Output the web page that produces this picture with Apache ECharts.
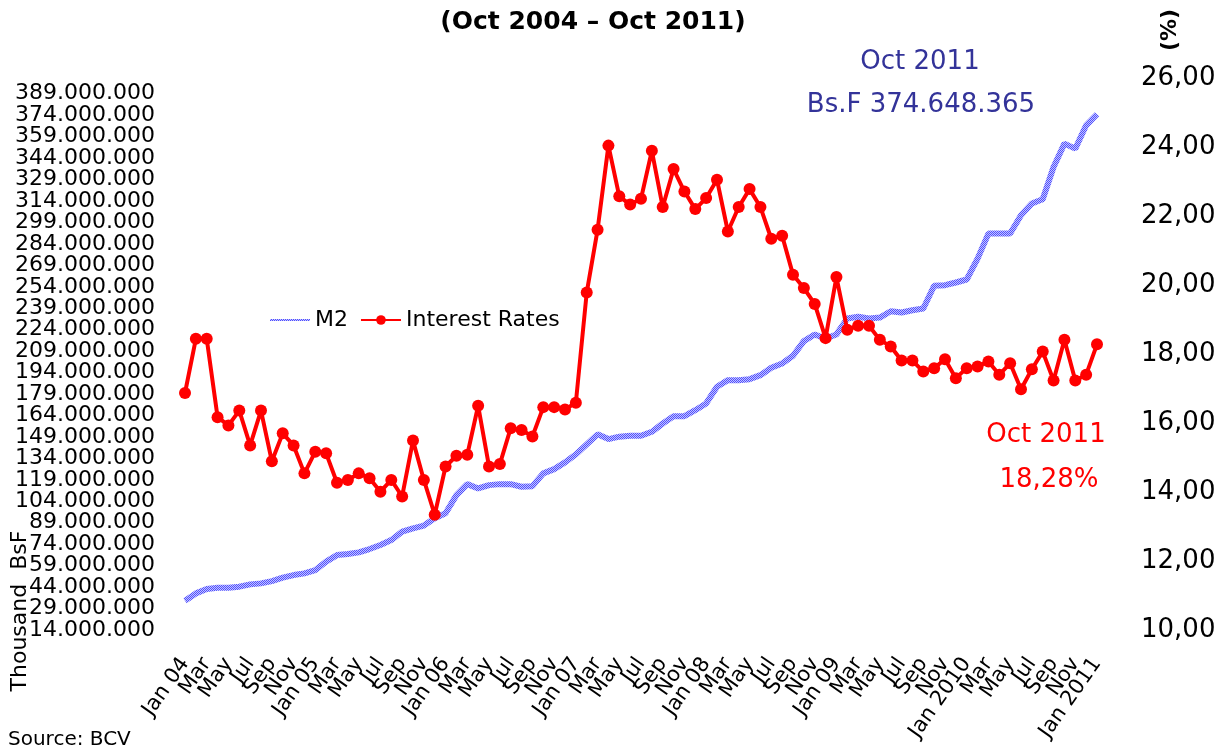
<!DOCTYPE html>
<html>
<head>
<meta charset="utf-8">
<script src="https://cdn.jsdelivr.net/npm/echarts@6/dist/echarts.min.js"></script>
<style>
html, body { margin: 0; padding: 0; background: #fff; }
#chart { width: 1223px; height: 750px; }
</style>
</head>
<body>
<div id="chart"></div>
<script>
// month names and year suffixes used for the x labels (Jan 04 .. Jan 2011)
const monthNames = ['Jan', 'Feb', 'Mar', 'Apr', 'May', 'Jun', 'Jul', 'Aug', 'Sep', 'Oct', 'Nov', 'Dec'];
const yearTags = ['04', '05', '06', '07', '08', '09', '2010', '2011'];

// M2, thousand BsF
const m2Values = [
    34500000, 39600000, 42700000, 43600000, 43600000, 44300000, 45900000, 46600000, 48200000, 50600000, 52400000, 53600000,
    55900000, 61800000, 66400000, 67100000, 68300000, 70600000, 73400000, 76900000, 82800000, 85100000, 87000000, 92100000,
    95600000, 108300000, 116000000, 113000000, 115300000, 116000000, 116000000, 114200000, 114600000, 123500000, 126500000, 131200000,
    136800000, 143800000, 150800000, 147500000, 149200000, 149800000, 149800000, 152600000, 158400000, 163500000, 163500000, 167700000,
    172400000, 184100000, 188700000, 188700000, 189400000, 192200000, 197400000, 200400000, 205800000, 216000000, 220600000, 217800000,
    220600000, 231800000, 233000000, 231800000, 232500000, 236900000, 236000000, 237600000, 238800000, 254700000, 255100000, 257000000,
    259100000, 273700000, 291200000, 291200000, 291200000, 304000000, 312200000, 315200000, 337800000, 354100000, 350600000, 366900000,
    374648365
];

// interest rates, %
const rateValues = [
    16.87, 18.44, 18.44, 16.17, 15.93, 16.36, 15.35, 16.36, 14.89, 15.70, 15.35, 14.54,
    15.17, 15.12, 14.27, 14.35, 14.54, 14.40, 14.01, 14.35, 13.87, 15.49, 14.35, 13.34,
    14.74, 15.05, 15.08, 16.50, 14.74, 14.81, 15.85, 15.80, 15.61, 16.46, 16.46, 16.39,
    16.59, 19.78, 21.60, 24.04, 22.57, 22.33, 22.50, 23.89, 22.26, 23.36, 22.71, 22.20,
    22.52, 23.05, 21.55, 22.26, 22.78, 22.26, 21.34, 21.43, 20.30, 19.91, 19.45, 18.46,
    20.23, 18.70, 18.82, 18.82, 18.41, 18.22, 17.81, 17.81, 17.49, 17.59, 17.85, 17.30,
    17.59, 17.64, 17.78, 17.40, 17.73, 16.98, 17.56, 18.07, 17.23, 18.41, 17.23, 17.40,
    18.28
];

// axis ranges: min, max, step
const leftAxisRange = [14000000, 400000000, 15000000];
const rightAxisRange = [10, 26, 2];

const categories = [];
for (let i = 0; i < m2Values.length; i++) {
    const m = monthNames[i % 12];
    categories.push(m === 'Jan' ? 'Jan ' + yearTags[Math.floor(i / 12)] : m);
}

function dotted(v) {
    return String(Math.round(v)).replace(/\B(?=(\d{3})+(?!\d))/g, '.');
}

// checkered blue texture for the M2 line
const tex = document.createElement('canvas');
tex.width = 2;
tex.height = 2;
const tctx = tex.getContext('2d');
tctx.fillStyle = '#c4c4ff';
tctx.fillRect(0, 0, 2, 2);
tctx.fillStyle = '#5050ff';
tctx.fillRect(0, 0, 1, 1);
tctx.fillRect(1, 1, 1, 1);

const FONT = 'DejaVu Sans';
const chart = echarts.init(document.getElementById('chart'));

const noLines = {
    axisLine: { show: false },
    axisTick: { show: false },
    splitLine: { show: false }
};
const leftLabel = { margin: 30, fontSize: 22, color: '#000', fontFamily: FONT };

const option = {
    backgroundColor: '#fff',
    animation: false,
    textStyle: { fontFamily: FONT },
    grid: { left: 185, right: 126, top: 78, bottom: 120 },
    legend: {
        left: 264,
        top: 304,
        itemWidth: 40,
        itemHeight: 12,
        itemGap: 12,
        textStyle: { fontSize: 22, color: '#000', fontFamily: FONT },
        data: [{ name: 'M2', itemStyle: { opacity: 0 } }, 'Interest Rates']
    },
    xAxis: Object.assign({
        type: 'category',
        data: categories,
        boundaryGap: false,
        axisLabel: {
            interval: 0,
            rotate: 55,
            margin: 30,
            fontSize: 21,
            color: '#000',
            fontFamily: FONT,
            // every second month is labelled
            formatter: function (v, i) { return i % 2 === 0 ? v : ''; }
        }
    }, noLines),
    yAxis: [Object.assign({
        type: 'value',
        min: leftAxisRange[0],
        max: leftAxisRange[1],
        interval: leftAxisRange[2],
        axisLabel: Object.assign({ showMinLabel: false, showMaxLabel: false, formatter: dotted }, leftLabel)
    }, noLines), Object.assign({
        type: 'value',
        min: rightAxisRange[0],
        max: rightAxisRange[1],
        interval: rightAxisRange[2],
        position: 'right',
        axisLabel: {
            margin: 44,
            fontSize: 26,
            color: '#000',
            fontFamily: FONT,
            showMinLabel: true,
            showMaxLabel: true,
            formatter: function (v) { return v.toFixed(2).replace('.', ','); }
        }
    }, noLines), Object.assign({
        // same scale as the left axis, only carries the bottom label
        type: 'value',
        min: leftAxisRange[0],
        max: leftAxisRange[1],
        interval: leftAxisRange[2],
        position: 'left',
        axisLabel: Object.assign({
            showMinLabel: true,
            showMaxLabel: false,
            formatter: function (v) { return v === leftAxisRange[0] ? dotted(v) : ''; }
        }, leftLabel)
    }, noLines)],
    series: [{
        name: 'M2',
        type: 'line',
        yAxisIndex: 0,
        symbol: 'none',
        lineStyle: { width: 6, color: { image: tex, repeat: 'repeat' } },
        itemStyle: { color: '#7a7aff' },
        data: m2Values
    }, {
        name: 'Interest Rates',
        type: 'line',
        yAxisIndex: 1,
        symbol: 'circle',
        symbolSize: 12,
        showAllSymbol: true,
        z: 3,
        lineStyle: { width: 4, color: '#ff0000' },
        itemStyle: { color: '#ff0000' },
        data: rateValues
    }],
    graphic: [{
        type: 'text', x: 593, y: 22,
        style: { text: '(Oct 2004 – Oct 2011)', font: 'bold 25px "DejaVu Sans"', fill: '#000', textAlign: 'center', textVerticalAlign: 'middle' }
    }, {
        type: 'text', x: 1170, y: 30, rotation: Math.PI / 2,
        style: { text: '(%)', font: 'bold 22px "DejaVu Sans"', fill: '#000', textAlign: 'center', textVerticalAlign: 'middle' }
    }, {
        type: 'text', x: 20, y: 611, rotation: Math.PI / 2,
        style: { text: 'Thousand  BsF', font: '22px "DejaVu Sans"', fill: '#000', textAlign: 'center', textVerticalAlign: 'middle' }
    }, {
        type: 'text', x: 920, y: 62,
        style: { text: 'Oct 2011', font: '26px "DejaVu Sans"', fill: '#333399', textAlign: 'center', textVerticalAlign: 'middle' }
    }, {
        type: 'text', x: 921, y: 105,
        style: { text: 'Bs.F 374.648.365', font: '26px "DejaVu Sans"', fill: '#333399', textAlign: 'center', textVerticalAlign: 'middle' }
    }, {
        type: 'text', x: 1046, y: 435,
        style: { text: 'Oct 2011', font: '26px "DejaVu Sans"', fill: '#ff0000', textAlign: 'center', textVerticalAlign: 'middle' }
    }, {
        type: 'text', x: 1049, y: 480,
        style: { text: '18,28%', font: '26px "DejaVu Sans"', fill: '#ff0000', textAlign: 'center', textVerticalAlign: 'middle' }
    }, {
        type: 'text', x: 8, y: 740,
        style: { text: 'Source: BCV', font: '20px "DejaVu Sans"', fill: '#000', textAlign: 'left', textVerticalAlign: 'middle' }
    }]
};

chart.setOption(option);
</script>
</body>
</html>
